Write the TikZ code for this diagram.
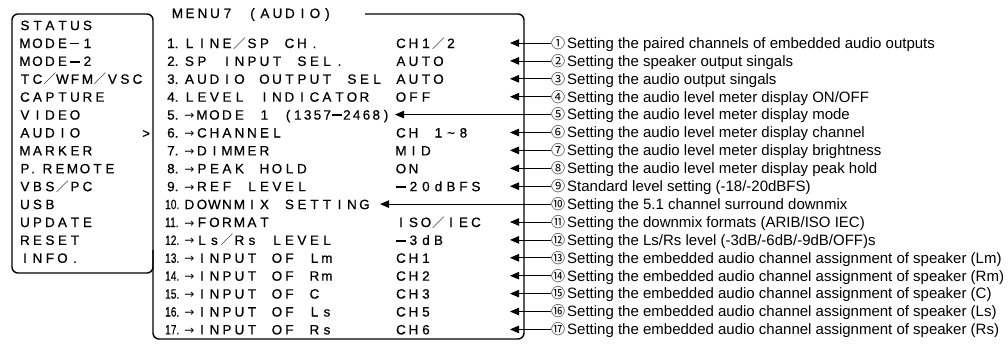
\documentclass[tikz,border=0pt]{standalone}
\usepackage{graphicx}
\usepackage{fontspec}
\setmainfont{Liberation Sans}
\newfontfamily\osdfont[FakeBold=0.6]{Liberation Sans}
\newfontfamily\cjk{Noto Sans CJK JP}
\newfontfamily\arr{DejaVu Sans}
\usetikzlibrary{arrows.meta}
\newlength\pitch \setlength\pitch{12.5pt}
\makeatletter
\def\mono@end{\mono@end}
\def\mono#1{\mono@#1\mono@end}
\def\mono@#1{\ifx#1\mono@end\else\makebox[\pitch][c]{#1}\expandafter\mono@\fi}
\makeatother
\newcommand\fsl{{\cjk\fontsize{12.5}{12}\selectfont ／}}
\newcommand\dsh{\rule[3.6pt]{9pt}{1pt}}
\newcommand\bdsh{\rule[3.3pt]{9.5pt}{2pt}}
\newcommand\ra{{\arr\fontsize{12}{12}\selectfont →}}
\newcommand\nnum[1]{\scalebox{0.75}[1]{#1}}
\tikzset{
  osd/.style={anchor=base west, inner sep=0pt, font=\osdfont\fontsize{13.5}{15}\selectfont},
  desc/.style={anchor=base west, inner sep=0pt, font=\fontsize{15}{17}\selectfont},
  circ/.style={anchor=west, inner sep=0pt, font=\cjk\fontsize{14}{15}\selectfont},
  frame/.style={line width=1.4pt, rounded corners=6pt},
  ptr/.style={line width=0.8pt, -{Triangle[length=9pt,width=7.5pt]}}
}
% #1 idx, #2 x of number, #3 number, #4 mono text, #5 value, #6 tip x, #7 circled, #8 description
\newcommand\menurow[8]{%
  \pgfmathsetmacro\yc{43+(#1-1)*17.9}%
  \node[osd] (m#1) at (#2,\yc+5) {\makebox[\dimexpr 183pt-#2pt\relax][l]{#3}#4};
  \node[osd] (v#1) at (394.5,\yc+5) {\mono{#5}};
  \coordinate (t#1) at (#6,\yc);
  \node[circ] (c#1) at (551,\yc) {#7};
  \node[desc] (d#1) at (567,\yc+5.3) {#8};
  \draw[ptr] (c#1.west) -- (t#1);
}
\newcommand\leftitem[2]{%
  \pgfmathsetmacro\yl{25.1+(#1-1)*17.9}%
  \node[osd] (l#1) at (18.5,\yl+5) {#2};
}
\begin{document}
\begin{tikzpicture}[x=1pt,y=-1pt]
\useasboundingbox (0,0) rectangle (1008,343);
% frames
\draw[frame] (12,14) rectangle (153,273);
\draw[frame] (365,14) -- (524,14) -- (524,339) -- (153,339) -- (153,250);
\node[osd] (title) at (171,18) {\mono{MENU7~(AUDIO)}};
% left menu
\leftitem{1}{\mono{STATUS}}
\leftitem{2}{\mono{MODE\dsh 1}}
\leftitem{3}{\mono{MODE\bdsh 2}}
\leftitem{4}{\mono{TC\fsl WFM\fsl VSC}}
\leftitem{5}{\mono{CAPTURE}}
\leftitem{6}{\mono{VIDEO}}
\leftitem{7}{\mono{AUDIO}}
\leftitem{8}{\mono{MARKER}}
\leftitem{9}{\mono{P}\makebox[10pt][l]{.}\mono{REMOTE}}
\leftitem{10}{\mono{VBS\fsl PC}}
\leftitem{11}{\mono{USB}}
\leftitem{12}{\mono{UPDATE}}
\leftitem{13}{\mono{RESET}}
\leftitem{14}{\mono{INFO.}}
\node[osd] (sel) at (142,133.0+5) {>};
% right menu rows
\menurow{1}{167}{1.}{\mono{LINE\fsl SP~CH.}}{CH1\fsl 2}{510}{①}{Setting the paired channels of embedded audio outputs}
\menurow{2}{167}{2.}{\mono{SP~INPUT~SEL.}}{AUTO}{510}{②}{Setting the speaker output singals}
\menurow{3}{167}{3.}{\mono{AUDIO~OUTPUT~SEL}}{AUTO}{510}{③}{Setting the audio output singals}
\menurow{4}{167}{4.}{\mono{LEVEL~INDICATOR}}{OFF}{510}{④}{Setting the audio level meter display ON/OFF}
\menurow{5}{167}{5.}{\mono{\ra MODE~1~}{\setlength\pitch{9.8pt}\mono{(1357\bdsh 2468)}}}{}{395}{⑤}{Setting the audio level meter display mode}
\menurow{6}{167}{6.}{\mono{\ra CHANNEL}}{CH~1\textasciitilde 8}{510}{⑥}{Setting the audio level meter display channel}
\menurow{7}{167}{7.}{\mono{\ra DIMMER}}{MID}{510}{⑦}{Setting the audio level meter display brightness}
\menurow{8}{167}{8.}{\mono{\ra PEAK~HOLD}}{ON}{510}{⑧}{Setting the audio level meter display peak hold}
\menurow{9}{167}{9.}{\mono{\ra REF~LEVEL}}{\bdsh 20dBFS}{510}{⑨}{Standard level setting (-18/-20dBFS)}
\menurow{10}{165}{\nnum{10.}}{\mono{DOWNMIX~SETTING}}{}{380}{⑩}{Setting the 5.1 channel surround downmix}
\menurow{11}{165}{\nnum{11.}}{\mono{\ra FORMAT}}{ISO\fsl IEC}{510}{⑪}{Setting the downmix formats (ARIB/ISO IEC)}
\menurow{12}{165}{\nnum{12.}}{\mono{\ra Ls\fsl Rs~LEVEL}}{\bdsh 3dB}{510}{⑫}{Setting the Ls/Rs level (-3dB/-6dB/-9dB/OFF)s}
\menurow{13}{165}{\nnum{13.}}{\mono{\ra INPUT~OF~Lm}}{CH1}{510}{⑬}{Setting the embedded audio channel assignment of speaker (Lm)}
\menurow{14}{165}{\nnum{14.}}{\mono{\ra INPUT~OF~Rm}}{CH2}{510}{⑭}{Setting the embedded audio channel assignment of speaker (Rm)}
\menurow{15}{165}{\nnum{15.}}{\mono{\ra INPUT~OF~C}}{CH3}{510}{⑮}{Setting the embedded audio channel assignment of speaker (C)}
\menurow{16}{165}{\nnum{16.}}{\mono{\ra INPUT~OF~Ls}}{CH5}{510}{⑯}{Setting the embedded audio channel assignment of speaker (Ls)}
\menurow{17}{165}{\nnum{17.}}{\mono{\ra INPUT~OF~Rs}}{CH6}{510}{⑰}{Setting the embedded audio channel assignment of speaker (Rs)}
\end{tikzpicture}
\end{document}
